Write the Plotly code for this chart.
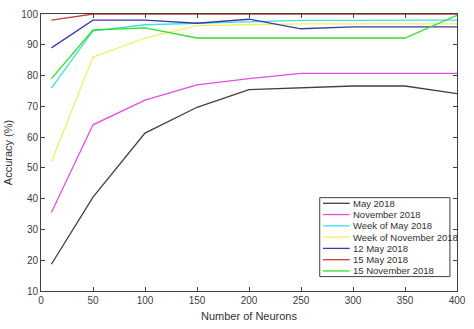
import plotly.graph_objects as go

neurons = [10, 50, 100, 150, 200, 250, 300, 350, 400]
may_2018 = [18.7, 40.5, 61.3, 69.7, 75.4, 76.1, 76.6, 76.6, 74.1]
nov_2018 = [35.5, 64.0, 72.0, 77.0, 79.0, 80.7, 80.7, 80.7, 80.7]
week_may_2018 = [75.9, 94.5, 96.5, 97.0, 97.5, 97.9, 97.9, 97.9, 98.0]
week_nov_2018 = [52.0, 86.0, 92.2, 96.2, 96.5, 96.8, 96.8, 96.8, 96.8]
may12_2018 = [89.0, 98.0, 98.0, 97.0, 98.3, 95.2, 95.8, 95.8, 95.8]
may15_2018 = [98.0, 100.0, 100.0, 100.0, 100.0, 100.0, 100.0, 100.0, 100.0]
nov15_2018 = [79.0, 94.8, 95.5, 92.2, 92.2, 92.2, 92.2, 92.2, 99.6]

names = ["May 2018", "November 2018", "Week of May 2018", "Week of November 2018",
         "12 May 2018", "15 May 2018", "15 November 2018"]
series = [may_2018, nov_2018, week_may_2018, week_nov_2018, may12_2018, may15_2018, nov15_2018]
colors = ["#404040", "#e050e0", "#40e0e0", "#f2f060", "#3a3aa8", "#c83c3c", "#30e030"]

x_ticks = [0, 50, 100, 150, 200, 250, 300, 350, 400]
y_ticks = [10, 20, 30, 40, 50, 60, 70, 80, 90, 100]

FONT = "Liberation Sans, Arial, sans-serif"

fig = go.Figure()
for n, s, c in zip(names, series, colors):
    fig.add_trace(go.Scatter(x=neurons, y=s, mode="lines", name=n,
                             line=dict(color=c, width=1.3), showlegend=False))

# custom compact legend (MATLAB style)
lx0, lx1 = 0.67, 0.983
ly_top, ly_bot = 0.337, 0.052
shapes = [dict(type="rect", xref="paper", yref="paper", x0=lx0, x1=lx1, y0=ly_bot, y1=ly_top,
               line=dict(color="#404040", width=1), fillcolor="white", layer="above")]
annotations = []
step = (ly_top - ly_bot) / 7
for i, (n, c) in enumerate(zip(names, colors)):
    yc = ly_top - step * (i + 0.5)
    shapes.append(dict(type="line", xref="paper", yref="paper", x0=0.678, x1=0.742, y0=yc, y1=yc,
                       line=dict(color=c, width=1.3), layer="above"))
    annotations.append(dict(x=0.744, y=yc, xref="paper", yref="paper", text=n, showarrow=False,
                            xanchor="left", yanchor="middle",
                            font=dict(family=FONT, size=9.5, color="#303030")))

axis_common = dict(showgrid=False, zeroline=False, showline=True, linecolor="#404040", linewidth=1,
                   mirror="allticks", ticks="inside", ticklen=4, tickcolor="#404040",
                   tickfont=dict(family=FONT, size=10, color="#404040"))

fig.update_layout(
    width=474, height=329,
    margin=dict(l=38, r=11, t=8, b=33),
    paper_bgcolor="white", plot_bgcolor="white",
    xaxis=dict(range=[0, 400], tickvals=x_ticks, **axis_common,
               title=dict(text="Number of Neurons", standoff=7,
                          font=dict(family=FONT, size=11, color="#303030"))),
    yaxis=dict(range=[10, 100], tickvals=y_ticks, **axis_common,
               title=dict(text="Accuracy (%)", standoff=6,
                          font=dict(family=FONT, size=11, color="#303030"))),
    shapes=shapes, annotations=annotations,
)
fig.write_html("out.html")
